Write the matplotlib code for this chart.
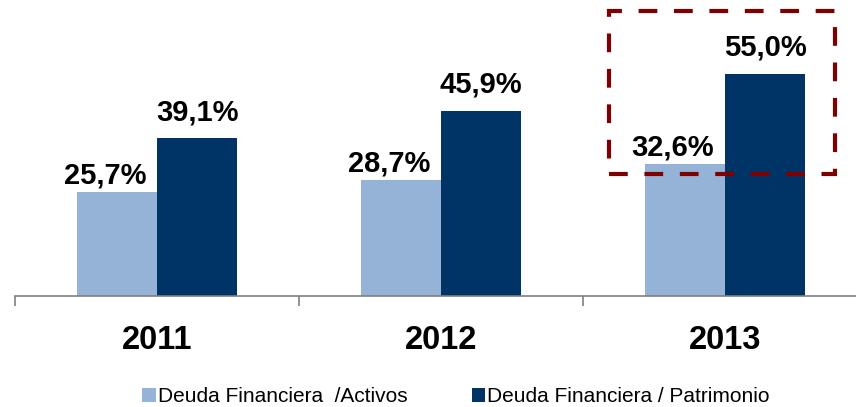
import matplotlib
matplotlib.use("Agg")
import matplotlib.pyplot as plt
from matplotlib.patches import Rectangle
import numpy as np

plt.rcParams['font.family'] = ['Liberation Sans', 'DejaVu Sans']

years = ["2011", "2012", "2013"]
deuda_activos = [25.7, 28.7, 32.6]
deuda_patrimonio = [39.1, 45.9, 55.0]
labels_activos = ["25,7%", "28,7%", "32,6%"]
labels_patrimonio = ["39,1%", "45,9%", "55,0%"]
series_names = ["Deuda Financiera  /Activos", "Deuda Financiera / Patrimonio"]

light = "#95B3D7"
dark = "#003366"
box_color = "#7F0000"

W, H = 856, 407
fig = plt.figure(figsize=(W / 100, H / 100), dpi=100)
ax = fig.add_axes([15 / W, 111 / H, 852 / W, 242.4 / H])

x = np.arange(len(years))
bw = 0.282
b1 = ax.bar(x - bw / 2, deuda_activos, width=bw, color=light, label=series_names[0])
b2 = ax.bar(x + bw / 2, deuda_patrimonio, width=bw, color=dark, label=series_names[1])

for xi, v, t in zip(x, deuda_activos, labels_activos):
    ax.annotate(t, (xi - bw / 2, v), xytext=(-12, 9), textcoords='offset pixels',
                ha='center', va='baseline', fontsize=21, fontweight='bold')
for xi, v, t in zip(x, deuda_patrimonio, labels_patrimonio):
    ax.annotate(t, (xi + bw / 2, v), xytext=(0, 18), textcoords='offset pixels',
                ha='center', va='baseline', fontsize=21, fontweight='bold')

ax.set_xlim(-0.5, 2.5)
ax.set_ylim(0, 60)
for s in ['top', 'right', 'left']:
    ax.spines[s].set_visible(False)
ax.spines['bottom'].set_color('#808080')
ax.spines['bottom'].set_linewidth(1.2)
ax.set_yticks([])
ax.set_xticks(x)
ax.set_xticklabels(years, fontsize=23.5, fontweight='bold')
ax.tick_params(axis='x', which='major', length=0, pad=21)
ax.set_xticks([-0.5, 0.5, 1.5, 2.5], minor=True)
ax.tick_params(axis='x', which='minor', length=7, color='#808080', width=1.2)

# dashed highlight box around 2013
rect = Rectangle((1.592, 30.2), 0.795, 40.3, fill=False, edgecolor=box_color,
                 linewidth=3, linestyle=(0, (4.5, 4)), clip_on=False, zorder=5)
ax.add_patch(rect)

leg = fig.legend(handles=[b1, b2], labels=series_names, loc='center',
                 bbox_to_anchor=(456 / W, 1 - 397 / H), ncol=2, frameon=False,
                 fontsize=15, handlelength=0.65, handleheight=0.65,
                 handletextpad=0.1, columnspacing=3.1)

fig.savefig("out.png", dpi=100)
